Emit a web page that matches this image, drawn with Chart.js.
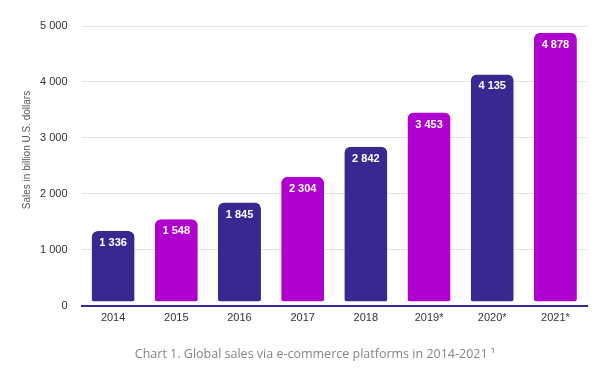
<!DOCTYPE html>
<html><head><meta charset="utf-8">
<script src="https://cdn.jsdelivr.net/npm/chart.js@4/dist/chart.umd.min.js"></script>
<style>html,body{margin:0;padding:0;background:#fff}#w{width:604px;height:375px}</style>
</head><body><div id="w"><canvas id="c" width="604" height="375"></canvas></div>
<script>
const categories = ["2014","2015","2016","2017","2018","2019*","2020*","2021*"];
const sales = [1336,1548,1845,2304,2842,3453,4135,4878];
const yTicks = [0,1000,2000,3000,4000,5000];
const barColors = ["#3a2891","#b000d0","#3a2891","#b000d0","#3a2891","#b000d0","#3a2891","#b000d0"];
const yTitle = "Sales in billion U.S. dollars";
const caption = "Chart 1. Global sales via e-commerce platforms in 2014-2021 \u00b9";

const fmt = v => String(v).replace(/\B(?=(\d{3})+(?!\d))/g, " ");

const labelPlugin = {
  id: "vals",
  afterDatasetsDraw(chart) {
    const ctx = chart.ctx;
    const meta = chart.getDatasetMeta(0);
    ctx.save();
    ctx.fillStyle = "#fff";
    ctx.font = "bold 11px 'Liberation Sans', Arial, sans-serif";
    ctx.textAlign = "center";
    ctx.textBaseline = "middle";
    meta.data.forEach((bar, i) => {
      ctx.fillText(fmt(sales[i]), bar.x, bar.y + 12);
    });
    // caption
    ctx.fillStyle = "#858585";
    ctx.font = "12.5px 'Open Sans', 'DejaVu Sans', sans-serif";
    ctx.fillText(caption, 315, 354);
    // y axis title
    ctx.fillStyle = "#555";
    ctx.font = "10px 'Liberation Sans', Arial, sans-serif";
    ctx.translate(27, 150);
    ctx.rotate(-Math.PI / 2);
    ctx.fillText(yTitle, 0, 0);
    ctx.restore();
  }
};

new Chart(document.getElementById("c"), {
  type: "bar",
  data: {
    labels: categories,
    datasets: [{
      data: sales,
      backgroundColor: barColors,
      borderColor: "rgba(255,255,255,0)",
      borderWidth: {top:0,left:0,right:0,bottom:4},
      borderSkipped: false,
      borderRadius: 6,
      categoryPercentage: 0.68,
      barPercentage: 1
    }]
  },
  options: {
    responsive: false,
    animation: false,
    layout: { padding: { left: 26, right: 17, top: 26, bottom: 44 } },
    plugins: {
      legend: { display: false },
      tooltip: { enabled: false },
      title: { display: false }
    },
    scales: {
      x: {
        grid: { display: false, drawTicks: false },
        border: { display: true, color: "#3a2891", width: 2 },
        ticks: { color: "#333", font: { family: "'Liberation Sans', Arial, sans-serif", size: 11 }, padding: 6 }
      },
      y: {
        min: 0, max: 5000,
        afterBuildTicks: ax => { ax.ticks = yTicks.map(v => ({value: v})); },
        grid: { color: "#e3e3e3", drawTicks: false, lineWidth: 1 },
        border: { display: false },
        ticks: { color: "#333", font: { family: "'Liberation Sans', Arial, sans-serif", size: 11 }, padding: 14, callback: v => fmt(v) }
      }
    }
  },
  plugins: [labelPlugin]
});
</script>
</body></html>
